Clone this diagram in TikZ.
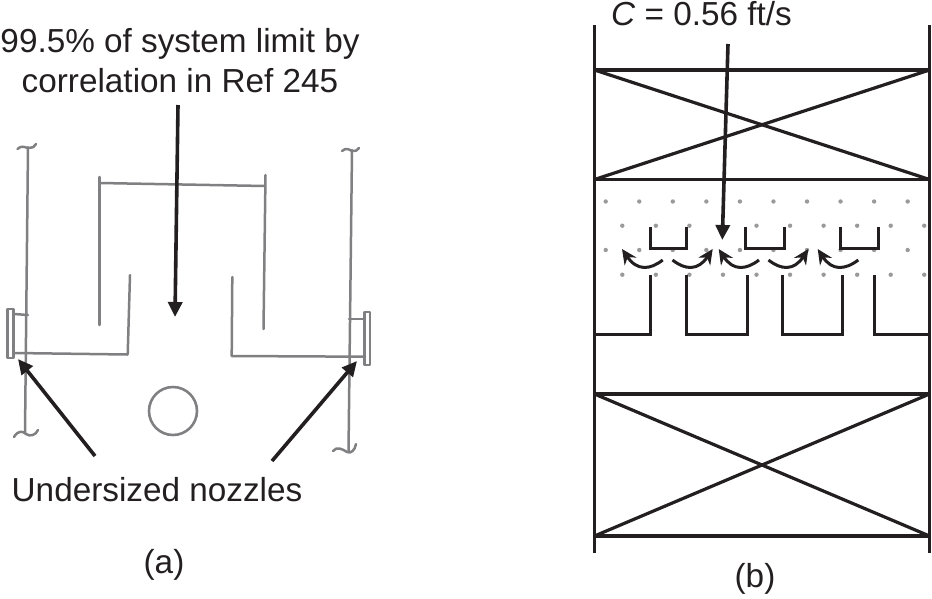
\documentclass[tikz,border=0pt]{standalone}
\usepackage{fontspec}
\setmainfont{Liberation Sans}
\usetikzlibrary{arrows.meta}
\definecolor{ink}{HTML}{231F20}
\definecolor{sketch}{HTML}{808082}
\definecolor{dotgrey}{HTML}{9A9A9C}
\tikzset{
  lbl/.style={font=\fontsize{33.3}{40}\selectfont,text=ink,inner sep=0pt,align=center},
  callout/.style={draw=ink,line width=3.6pt,-{Triangle[length=15pt,width=14pt]},shorten >=0pt},
  hand/.style={draw=sketch,line width=2.5pt,line cap=round,line join=round},
  frame/.style={draw=ink,line width=3.2pt},
  inner/.style={draw=ink,line width=3pt},
  swirl/.style={draw=ink,line width=3pt,-{Stealth[length=15pt,width=14pt]}},
  pt/.style={circle,fill=dotgrey,inner sep=0pt,minimum size=4.4pt},
}
\begin{document}
\begin{tikzpicture}[x=1pt,y=-1pt]
\useasboundingbox (0,0) rectangle (932,598);
% ---------- panel (a) ----------
\node[lbl] (limit) at (180,61) {99.5\% of system limit by\\correlation in Ref 245};
\node[lbl] (nozzles) at (157,490) {Undersized nozzles};
\node[lbl] (capA) at (164,565) {(a)};
\coordinate (limitTip) at (175,317);
\coordinate (leftTip) at (18,359);
\coordinate (rightTip) at (357,361);
\coordinate (limitTail) at (178,105);
\coordinate (leftTail) at (95,456);
\coordinate (rightTail) at (272,461);
% walls
\draw[hand] (28,147) -- (25,433);
\draw[hand] (17.5,149) .. controls (23,144) and (27,149) .. (29,148) .. controls (32,148) and (35,147) .. (36,144);
\draw[hand] (14,437) .. controls (18,430) and (23,431) .. (26,434) .. controls (30,437) and (36,435) .. (38,430);
\draw[hand] (352,150) -- (348.5,452);
\draw[hand] (342,151) .. controls (346,147) and (350,150) .. (352,151) .. controls (355,152) and (358,150) .. (359,148);
\draw[hand] (333,451) .. controls (337,446) and (342,449) .. (347,452) .. controls (351,454) and (355,450) .. (356,444);
% baffle and downcomer
\draw[hand] (99.5,177) -- (99.5,325);
\draw[hand] (100,183) -- (265,186);
\draw[hand] (265.5,175) -- (263.5,329);
\draw[hand] (130,275) -- (127.7,354.5) -- (15,353);
\draw[hand] (232.3,277) -- (231.7,356) -- (365,356.7);
% nozzles
\draw[hand] (14,314) -- (28,315);
\draw[hand] (7.5,309) rectangle (13.5,358);
\draw[hand] (349,319) -- (365,319);
\draw[hand] (364.5,312) rectangle (370,365);
\node[draw=sketch,line width=2.6pt,circle,minimum size=48pt,inner sep=0pt] (pipe) at (173,411) {};
\draw[callout] (limitTail) -- (limitTip);
\draw[callout] (leftTail) -- (leftTip);
\draw[callout] (rightTail) -- (rightTip);
% ---------- panel (b) ----------
\node[lbl,anchor=west] (speed) at (611,14) {\textit{C} = 0.56 ft/s};
\node[lbl] (capB) at (755,579) {(b)};
\coordinate (speedTail) at (728,44);
\coordinate (speedTip) at (722.3,240);
\draw[frame] (594.5,25) -- (594.5,553);
\draw[frame] (929.5,25) -- (929.5,553);
\draw[frame] (594.5,70) rectangle (929.5,179.5);
\draw[frame] (594.5,70) -- (929.5,179.5);
\draw[frame] (594.5,179.5) -- (929.5,70);
\draw[frame] (594.5,394) rectangle (929.5,536);
\draw[frame] (594.5,394) -- (929.5,536);
\draw[frame] (594.5,536) -- (929.5,394);
% dots
\foreach \i in {0,...,9} {
  \node[pt] at (605.7+33.55*\i,201.5) {};
  \node[pt] at (605.7+33.55*\i,250) {};
  \node[pt] at (622.3+33.55*\i,225.7) {};
  \node[pt] at (622.3+33.55*\i,274.7) {};
}
% tray caps and weirs
\draw[inner] (650,226.5) -- (650,248.5) -- (686.7,248.5) -- (686.7,226.5);
\draw[inner] (745,226.5) -- (745,248.5) -- (784,248.5) -- (784,226.5);
\draw[inner] (840,226.5) -- (840,248.5) -- (878.7,248.5) -- (878.7,226.5);
\draw[inner] (594.5,334.5) -- (650,334.5) -- (650,275);
\draw[inner] (686.3,275) -- (686.3,334.5) -- (747,334.5) -- (747,275);
\draw[inner] (782,275) -- (782,334.5) -- (842,334.5) -- (842,275);
\draw[inner] (874.5,275) -- (874.5,334.5) -- (929.5,334.5);
% swirling flow
\draw[swirl] (662.7,260) .. controls (650,270) and (637,271) .. (622,249);
\draw[swirl] (672.5,260) .. controls (685,270) and (698,271) .. (712.7,249);
\draw[swirl] (759,260) .. controls (746,270) and (733,271) .. (718.7,249);
\draw[swirl] (768.5,260) .. controls (781,270) and (794,271) .. (808.3,249);
\draw[swirl] (858.3,260) .. controls (845,270) and (832,271) .. (817.7,249);
\draw[callout] (speedTail) -- (speedTip);
\end{tikzpicture}
\end{document}
